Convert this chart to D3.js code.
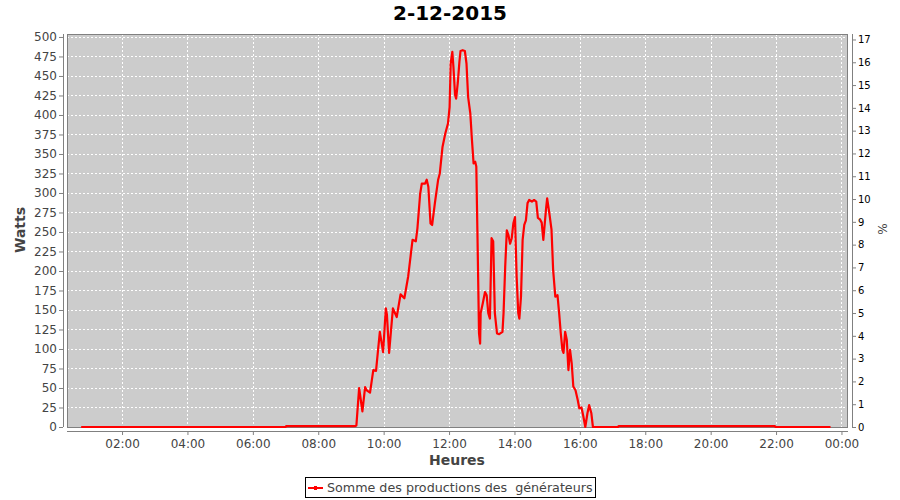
<!DOCTYPE html>
<html>
<head>
<meta charset="utf-8">
<script src="https://cdn.jsdelivr.net/npm/d3@7"></script>
<style>
  html, body { margin: 0; padding: 0; background: #fff; }
  svg { display: block; font-family: "DejaVu Sans", sans-serif; }
</style>
</head>
<body>
<svg id="chart" width="900" height="500"></svg>
<script>
// ---- data ----
const title = "2-12-2015";
const seriesName = "Somme des productions des  générateurs";
const times = [
  "00:45","07:00","07:01","09:07","09:10","09:15","09:21","09:26","09:29","09:35",
  "09:41","09:46","09:53","09:59","10:04","10:06","10:10","10:17","10:24","10:31",
  "10:38","10:45","10:53","10:59","11:02","11:07","11:10","11:16","11:19","11:22",
  "11:26","11:29","11:34","11:40","11:43","11:48","11:53","11:58","12:01","12:03",
  "12:06","12:08","12:11","12:13","12:16","12:19","12:21","12:25","12:29","12:32",
  "12:35","12:39","12:42","12:45","12:48","12:50","12:52","12:55","12:57","12:58",
  "13:02","13:06","13:09","13:12","13:15","13:18","13:21","13:24","13:28","13:32",
  "13:38","13:40","13:43","13:46","13:49","13:52","13:55","13:58","14:01","14:04",
  "14:07","14:09","14:12","14:15","14:18","14:21","14:24","14:27","14:32","14:36",
  "14:40","14:43","14:47","14:50","14:53","14:58","15:00","15:04","15:08","15:11",
  "15:15","15:19","15:22","15:25","15:28","15:30","15:33","15:36","15:39","15:42",
  "15:45","15:48","15:52","15:56","15:59","16:03","16:06","16:10","16:14","16:17",
  "16:21","16:24","17:10","17:11","21:58","21:59","23:40"
];
const watts = [
  0,0,1,1,2,50,20,51,47,44,
  73,72,122,96,152,144,95,152,141,170,
  165,193,240,238,255,299,312,312,317,308,
  261,259,287,317,325,359,376,389,410,466,
  481,462,426,421,441,468,482,483,482,466,
  423,402,368,338,340,334,252,120,107,146,
  159,173,169,146,139,242,238,146,120,119,
  122,146,205,252,246,235,242,261,269,193,
  146,139,167,240,259,265,287,291,289,291,
  289,268,266,262,240,280,293,274,253,201,
  167,169,146,120,99,95,122,112,73,99,
  82,52,47,35,24,25,15,0,18,28,
  18,0,0,1,1,0,0
];
const wattTicks = [0,25,50,75,100,125,150,175,200,225,250,275,300,325,350,375,400,425,450,475,500];
const pctTicks = [0,1,2,3,4,5,6,7,8,9,10,11,12,13,14,15,16,17];

// ---- layout ----
const L = 67, R = 848, T = 34, B = 427;
const svg = d3.select("#chart");
const parse = d3.timeParse("%Y-%m-%d %H:%M");
const day = "2015-12-02";
const data = times.map((t, i) => ({ t: parse(day + " " + t), v: watts[i] }));

const x = d3.scaleTime()
  .domain([parse(day + " 00:19"), parse("2015-12-03 00:12")])
  .range([L, R]);
const y = d3.scaleLinear().domain([0, 503.8]).range([B, T]);
const y2 = d3.scaleLinear().domain([0, 17.24]).range([B, T]);

// background
svg.append("rect").attr("x", L).attr("y", T).attr("width", R - L).attr("height", B - T)
  .attr("fill", "#cccccc");

const xTicks = d3.timeHour.every(2).range(parse(day + " 01:00"), parse("2015-12-03 00:13"));

// grid
const grid = svg.append("g").attr("stroke", "#ffffff").attr("stroke-width", 1)
  .attr("stroke-dasharray", "2,2");
grid.selectAll("line.v").data(xTicks).join("line")
  .attr("x1", d => Math.round(x(d)) + 0.5).attr("x2", d => Math.round(x(d)) + 0.5)
  .attr("y1", T).attr("y2", B);
grid.selectAll("line.h").data(wattTicks).join("line")
  .attr("x1", L).attr("x2", R)
  .attr("y1", d => Math.round(y(d)) + 0.5).attr("y2", d => Math.round(y(d)) + 0.5);

// plot border
svg.append("rect").attr("x", L + 0.5).attr("y", T + 0.5).attr("width", R - L - 1).attr("height", B - T)
  .attr("fill", "none").attr("stroke", "#808080").attr("stroke-width", 1);

// line
const line = d3.line().x(d => x(d.t)).y(d => y(d.v));
svg.append("path").datum(data).attr("d", line)
  .attr("fill", "none").attr("stroke", "#ff0000").attr("stroke-width", 2.2)
  .attr("stroke-linejoin", "round");

// axes
const axisColor = "#808080";
const gx = svg.append("g").attr("transform", `translate(0,${B + 4})`)
  .call(d3.axisBottom(x).tickValues(xTicks).tickFormat(d3.timeFormat("%H:%M")).tickSize(4).tickSizeOuter(0));
const gy = svg.append("g").attr("transform", `translate(${L - 4},0)`)
  .call(d3.axisLeft(y).tickValues(wattTicks).tickSize(4).tickSizeOuter(0));
const gy2 = svg.append("g").attr("transform", `translate(${R + 4},0)`)
  .call(d3.axisRight(y2).tickValues(pctTicks).tickSize(4).tickSizeOuter(0));

[gx, gy, gy2].forEach(g => {
  g.select(".domain").attr("stroke", axisColor);
  g.selectAll(".tick line").attr("stroke", axisColor);
  g.selectAll("text").attr("font-family", "DejaVu Sans, sans-serif");
});
gx.select(".domain").attr("d", `M${L},0.5H${R}`);
gy.select(".domain").attr("d", `M0.5,${T}V${B}`);
gy2.select(".domain").attr("d", `M0.5,${T}V${B}`);
gx.selectAll("text").attr("font-size", 12).attr("fill", "#444444").attr("dy", "0.85em");
gy.selectAll("text").attr("font-size", 12).attr("fill", "#444444").attr("x", -6);
gy2.selectAll("text").attr("font-size", 10).attr("fill", "#000000").attr("x", 6);

// titles
svg.append("text").attr("x", 450).attr("y", 20).attr("text-anchor", "middle")
  .attr("font-size", 20).attr("font-weight", "bold").attr("fill", "#000")
  .text(title);
svg.append("text").attr("x", 457).attr("y", 465).attr("text-anchor", "middle")
  .attr("font-size", 14).attr("font-weight", "bold").attr("fill", "#444444")
  .text("Heures");
svg.append("text").attr("transform", "translate(25,230) rotate(-90)").attr("text-anchor", "middle")
  .attr("font-size", 14).attr("font-weight", "bold").attr("fill", "#444444")
  .text("Watts");
svg.append("text").attr("transform", "translate(887,229) rotate(-90)").attr("text-anchor", "middle")
  .attr("font-size", 12).attr("fill", "#444444")
  .text("%");

// legend
const lg = svg.append("g");
lg.append("rect").attr("x", 305.5).attr("y", 477.5).attr("width", 290).attr("height", 20)
  .attr("fill", "#fff").attr("stroke", "#000").attr("stroke-width", 1);
lg.append("line").attr("x1", 308).attr("x2", 323).attr("y1", 488).attr("y2", 488)
  .attr("stroke", "#ff0000").attr("stroke-width", 2);
lg.append("rect").attr("x", 314).attr("y", 486).attr("width", 3).attr("height", 4).attr("fill", "#ff0000");
lg.append("text").attr("x", 327).attr("y", 492).attr("font-size", 12.7).attr("fill", "#444444")
  .style("white-space", "pre")
  .text(seriesName);
</script>
</body>
</html>
